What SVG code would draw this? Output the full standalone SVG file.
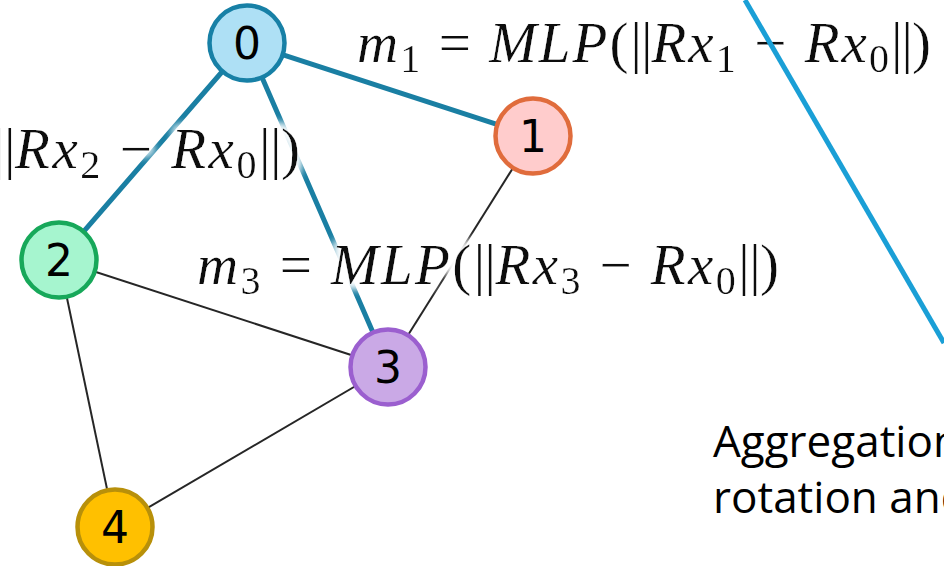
<svg xmlns="http://www.w3.org/2000/svg" width="944" height="566" viewBox="0 0 944 566">
<style>
.thick{stroke:#1a7fa3;stroke-width:5;fill:none;stroke-linecap:round}
.thin{stroke:#262626;stroke-width:2;fill:none}
.node circle{stroke-width:4.5}
.node text{font-family:"DejaVu Sans",sans-serif;font-size:44px;fill:#000;text-anchor:middle}
.math{font-family:"Liberation Serif","DejaVu Serif",serif;font-size:57px;fill:#111}
.i{font-style:italic}
.sb{font-size:40px}
.bar{letter-spacing:-3px}
.cap{font-family:"Open Sans","Noto Sans",sans-serif;font-size:44px;fill:#000}
</style>
<defs>
<filter id="halo" x="-10%" y="-40%" width="120%" height="180%">
<feMorphology in="SourceAlpha" operator="dilate" radius="3" result="d"/>
<feGaussianBlur in="d" stdDeviation="5" result="b"/>
<feFlood flood-color="#ffffff" result="f"/>
<feComposite in="f" in2="b" operator="in" result="w"/>
<feMerge><feMergeNode in="w"/><feMergeNode in="w"/><feMergeNode in="SourceGraphic"/></feMerge>
</filter>
</defs>
<rect width="944" height="566" fill="#fff"/>
<g id="connectors">
<line class="thick" x1="247" y1="43" x2="533" y2="136"/>
<line class="thick" x1="247" y1="43" x2="59" y2="260"/>
<line class="thick" x1="247" y1="43" x2="388" y2="367"/>
<line class="thin" x1="533" y1="136" x2="388" y2="367"/>
<line class="thin" x1="59" y1="260" x2="388" y2="367"/>
<line class="thin" x1="59" y1="260" x2="115" y2="527"/>
<line class="thin" x1="388" y1="367" x2="115" y2="527"/>
</g>
<g id="labels" filter="url(#halo)">
<text class="math" x="357" y="62" textLength="574" lengthAdjust="spacing"><tspan class="i">m</tspan><tspan class="sb" dy="10">1</tspan><tspan dy="-10"> = </tspan><tspan class="i">MLP</tspan><tspan>(</tspan><tspan class="bar">||</tspan><tspan class="i">Rx</tspan><tspan class="sb" dy="10">1</tspan><tspan dy="-10"> − </tspan><tspan class="i">Rx</tspan><tspan class="sb" dy="10">0</tspan><tspan class="bar" dy="-10">||</tspan><tspan>)</tspan></text>
<text class="math" x="-7" y="168" textLength="307" lengthAdjust="spacing"><tspan class="bar">||</tspan><tspan class="i">Rx</tspan><tspan class="sb" dy="10">2</tspan><tspan dy="-10"> − </tspan><tspan class="i">Rx</tspan><tspan class="sb" dy="10">0</tspan><tspan class="bar" dy="-10">||</tspan><tspan>)</tspan></text>
<text class="math" x="197" y="284" textLength="582" lengthAdjust="spacing"><tspan class="i">m</tspan><tspan class="sb" dy="10">3</tspan><tspan dy="-10"> = </tspan><tspan class="i">MLP</tspan><tspan>(</tspan><tspan class="bar">||</tspan><tspan class="i">Rx</tspan><tspan class="sb" dy="10">3</tspan><tspan dy="-10"> − </tspan><tspan class="i">Rx</tspan><tspan class="sb" dy="10">0</tspan><tspan class="bar" dy="-10">||</tspan><tspan>)</tspan></text>
</g>
<g id="node0" class="node"><circle cx="247" cy="43" r="37.5" fill="#aee0f5" stroke="#1780a6"/><text x="247" y="59">0</text></g>
<g id="node1" class="node"><circle cx="533" cy="136" r="37.5" fill="#ffcccc" stroke="#e06c3c"/><text x="533" y="152">1</text></g>
<g id="node2" class="node"><circle cx="59" cy="260" r="37.5" fill="#a6f5cf" stroke="#17a85a"/><text x="59" y="276">2</text></g>
<g id="node3" class="node"><circle cx="388" cy="367" r="37.5" fill="#caa9e6" stroke="#9b5fcf"/><text x="388" y="383">3</text></g>
<g id="node4" class="node"><circle cx="115" cy="527" r="37.5" fill="#ffc000" stroke="#b8900a"/><text x="115" y="543">4</text></g>
<line id="divider" x1="745" y1="0" x2="944" y2="343" stroke="#1a9fd6" stroke-width="5"/>
<g id="caption">
<text class="cap" x="713" y="457">Aggregation</text>
<text class="cap" x="713" y="513">rotation and</text>
</g>
</svg>
